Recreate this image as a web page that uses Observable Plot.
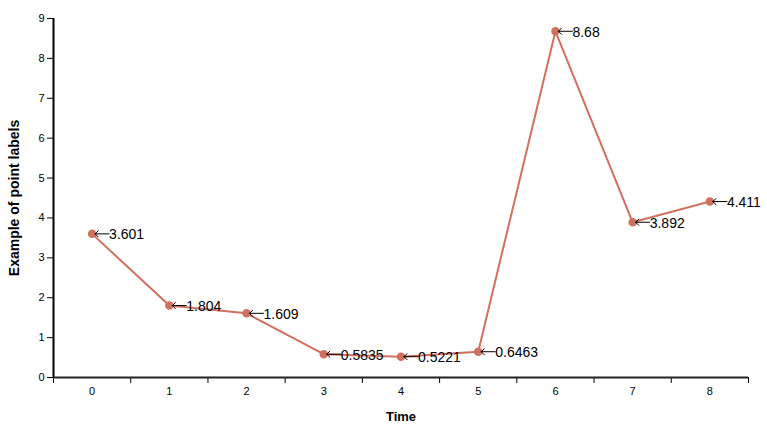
<!DOCTYPE html>
<html>
<head>
<meta charset="utf-8">
<script src="https://cdn.jsdelivr.net/npm/d3@7"></script>
<script src="https://cdn.jsdelivr.net/npm/@observablehq/plot@0.6"></script>
<style>
  html, body { margin: 0; padding: 0; background: #fff; }
  svg { display: block; }
</style>
</head>
<body>
<div id="chart"></div>
<script>
const times = [0, 1, 2, 3, 4, 5, 6, 7, 8];
const values = [3.601, 1.804, 1.609, 0.5835, 0.5221, 0.6463, 8.68, 3.892, 4.411];
const labels = ["3.601", "1.804", "1.609", "0.5835", "0.5221", "0.6463", "8.68", "3.892", "4.411"];
const yTicks = [0, 1, 2, 3, 4, 5, 6, 7, 8, 9];
const xTitle = "Time";
const yTitle = "Example of point labels";

const data = times.map((t, i) => ({t, v: values[i], label: labels[i]}));
const bounds = times.map(t => t - 0.5).concat([times[times.length - 1] + 0.5]);
const color = "#d0705f";

const chart = Plot.plot({
  width: 767,
  height: 432,
  marginLeft: 53,
  marginRight: 19,
  marginTop: 18,
  marginBottom: 55,
  style: {fontFamily: "'Liberation Sans', Arial, sans-serif", fontSize: "11px", color: "#000", background: "#fff"},
  x: {type: "linear", domain: [bounds[0], bounds[bounds.length - 1]]},
  y: {domain: [0, 9]},
  marks: [
    Plot.axisY({ticks: yTicks, tickSize: 6, tickPadding: 3, tickFormat: d => String(d), label: null, fontSize: 11}),
    Plot.axisX({ticks: bounds, tickSize: 6, tickFormat: () => "", label: null}),
    Plot.axisX({ticks: times, tickSize: 0, tickPadding: 10, tickFormat: d => String(d), label: null, fontSize: 11}),
    Plot.ruleX([bounds[0]], {stroke: "#000", strokeWidth: 2}),
    Plot.ruleY([0], {stroke: "#222", strokeWidth: 2}),
    Plot.line(data, {x: "t", y: "v", stroke: color, strokeWidth: 2}),
    Plot.dot(data, {x: "t", y: "v", r: 3.5, fill: color, stroke: color}),
    Plot.vector(data, {x: "t", y: "v", length: 14, rotate: 270, anchor: "end", r: 3.8, dx: 3, stroke: "#000", strokeWidth: 1}),
    Plot.text(data, {x: "t", y: "v", text: "label", textAnchor: "start", dx: 17, dy: 1, fontSize: 14, fill: "#000"}),
    Plot.text([xTitle], {frameAnchor: "bottom", dy: 43, text: d => d, fontWeight: "bold", fontSize: 13, fill: "#000"}),
    Plot.text([yTitle], {frameAnchor: "left", textAnchor: "middle", dx: -39, rotate: -90, text: d => d, fontWeight: "bold", fontSize: 14, fill: "#000"})
  ]
});
document.getElementById("chart").appendChild(chart);
</script>
</body>
</html>
